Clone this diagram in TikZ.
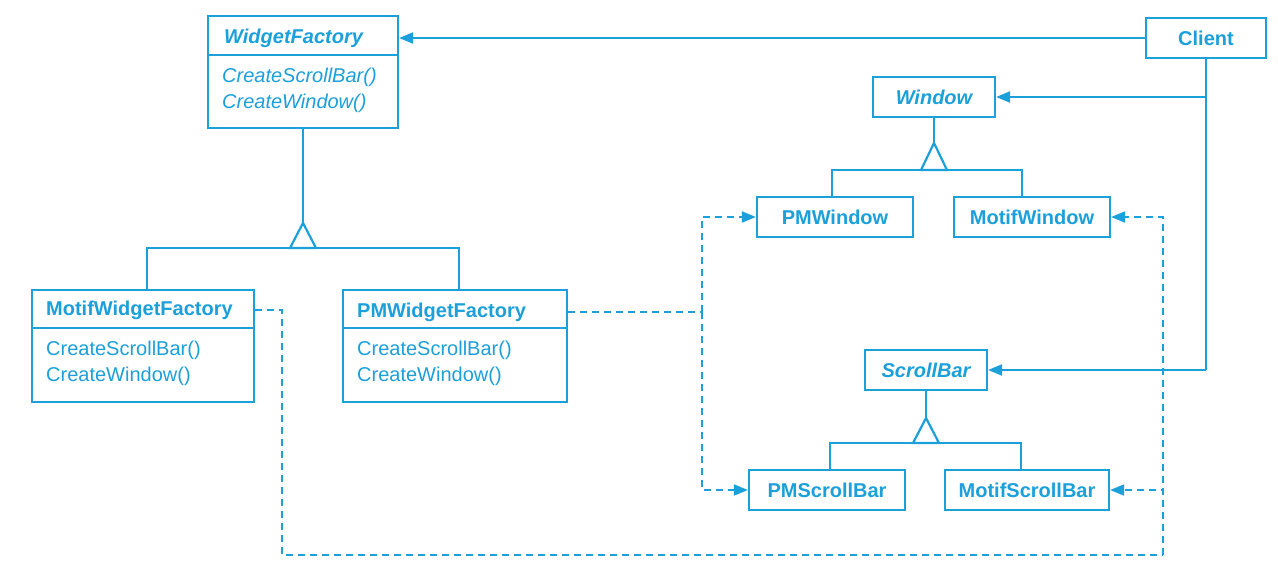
\documentclass[tikz,border=0pt]{standalone}
\usepackage{fontspec}
\setmainfont{Liberation Sans}
\usetikzlibrary{arrows.meta}
\definecolor{umlblue}{RGB}{28,160,218}
\begin{document}
\begin{tikzpicture}[x=1pt,y=-1pt,
  every node/.style={text=umlblue,font=\fontsize{20}{24}\selectfont,inner sep=0pt},
  classbox/.style={draw=umlblue,line width=2.2pt,minimum width=#1,inner sep=0pt},
  ln/.style={draw=umlblue,line width=2.2pt},
  dep/.style={draw=umlblue,line width=1.8pt,dash pattern=on 7pt off 5pt},
  tip/.style={-{Triangle[length=14pt,width=11pt]}},
  ttl/.style={anchor=west,font=\fontsize{20}{24}\selectfont\bfseries},
  ittl/.style={anchor=west,font=\fontsize{20}{24}\selectfont\bfseries\itshape},
  op/.style={anchor=west},
  iop/.style={anchor=west,font=\fontsize{20}{24}\selectfont\itshape}]
\useasboundingbox (0,0) rectangle (1278,563);
\fill[white] (0,0) rectangle (1278,563);

% WidgetFactory
\node[classbox=190pt,minimum height=112pt] (wf) at (303,72) {};
\draw[ln] (wf.west |- 0,55) -- (wf.east |- 0,55);
\node[ittl] (wft) at (224,38.5) {WidgetFactory};
\node[iop] (wfo1) at (222,77) {CreateScrollBar()};
\node[iop] (wfo2) at (222,103) {CreateWindow()};

% MotifWidgetFactory
\node[classbox=222pt,minimum height=112pt] (mwf) at (143,346) {};
\draw[ln] (mwf.west |- 0,328) -- (mwf.east |- 0,328);
\node[ttl] (mwft) at (46,310) {MotifWidgetFactory};
\node[op] (mwfo1) at (46,350) {CreateScrollBar()};
\node[op] (mwfo2) at (46,376) {CreateWindow()};

% PMWidgetFactory
\node[classbox=224pt,minimum height=112pt] (pmwf) at (455,346) {};
\draw[ln] (pmwf.west |- 0,328) -- (pmwf.east |- 0,328);
\node[ttl] (pmwft) at (357,312) {PMWidgetFactory};
\node[op] (pmwfo1) at (357,350) {CreateScrollBar()};
\node[op] (pmwfo2) at (357,376) {CreateWindow()};

% Client
\node[classbox=120pt,minimum height=40pt,font=\fontsize{20}{24}\selectfont\bfseries] (client) at (1206,38) {Client};

% Window family
\node[classbox=122pt,minimum height=40pt,font=\fontsize{20}{24}\selectfont\bfseries\itshape] (win) at (934,97) {Window};
\node[classbox=156pt,minimum height=40pt,font=\fontsize{20}{24}\selectfont\bfseries] (pmw) at (835,217) {PMWindow};
\node[classbox=156pt,minimum height=40pt,font=\fontsize{20}{24}\selectfont\bfseries] (mw) at (1032,217) {MotifWindow};

% ScrollBar family
\node[classbox=122pt,minimum height=40pt,font=\fontsize{20}{24}\selectfont\bfseries\itshape] (sb) at (926,370) {ScrollBar};
\node[classbox=156pt,minimum height=40pt,font=\fontsize{20}{24}\selectfont\bfseries] (pmsb) at (827,490) {PMScrollBar};
\node[classbox=164pt,minimum height=40pt,font=\fontsize{20}{24}\selectfont\bfseries] (msb) at (1027,490) {MotifScrollBar};

% coordinates
\coordinate (wfa) at (303,223);
\coordinate (wfb) at (303,248);
\coordinate (wina) at (934,143);
\coordinate (winb) at (934,170);
\coordinate (sba) at (926,418);
\coordinate (sbb) at (926,443);
\coordinate (pj) at (pmwft -| 702,0);
\coordinate (mj1) at (282,555);
\coordinate (mj2) at (1163,555);

% generalisation: WidgetFactory
\draw[ln] (wf.south) -- (wfa);
\draw[ln,line join=miter] (wfa) -- ++(-13,25) -- ++(26,0) -- cycle;
\draw[ln] ([xshift=4pt]mwf.north) |- (wfb) -| ([xshift=4pt]pmwf.north);

% generalisation: Window
\draw[ln] (win.south) -- (wina);
\draw[ln,line join=miter] (wina) -- ++(-13,27) -- ++(26,0) -- cycle;
\draw[ln] ([xshift=-3pt]pmw.north) |- (winb) -| ([xshift=-10pt]mw.north);

% generalisation: ScrollBar
\draw[ln] (sb.south) -- (sba);
\draw[ln,line join=miter] (sba) -- ++(-13,25) -- ++(26,0) -- cycle;
\draw[ln] ([xshift=3pt]pmsb.north) |- (sbb) -| ([xshift=-6pt]msb.north);

% Client associations
\draw[ln,tip] (client.west) -- (wf.east |- client.west);
\coordinate (cw) at (client.south |- win.east);
\coordinate (cs) at (client.south |- sb.east);
\draw[ln] (client.south) -- (cs);
\draw[ln,tip] (cw) -- (win.east);
\draw[ln,tip] (cs) -- (sb.east);

% PM creation dependencies
\draw[dep] (pmwf.east |- pmwft) -- (pj);
\draw[dep,tip] (pj) |- (pmw.west);
\draw[dep,tip] (pj) |- (pmsb.west);

% Motif creation dependencies
\draw[dep] (mwf.east |- mwft) -| (mj1) -- (mj2);
\draw[dep,tip] (mj2) |- (msb.east);
\draw[dep,tip] (mj2) |- (mw.east);
\end{tikzpicture}
\end{document}
